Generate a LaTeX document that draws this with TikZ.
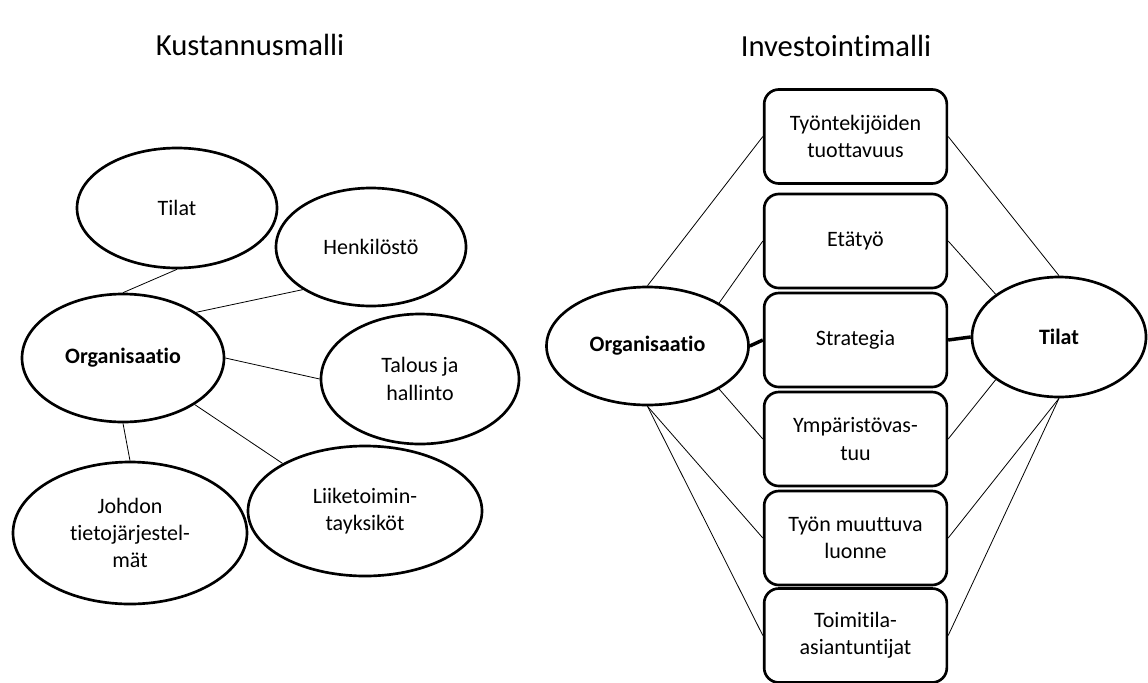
\documentclass[tikz,border=0pt]{standalone}
\usepackage{fontspec}
\setmainfont{Carlito}[Ligatures=NoCommon]
\usetikzlibrary{shapes.geometric}

\tikzset{
  oval/.style={draw, ellipse, line width=2pt, fill=white, align=center, inner sep=0pt},
  teema/.style={draw, rounded corners=11pt, line width=2pt, fill=white, align=center,
    minimum width=137pt, minimum height=70.5pt, inner sep=0pt},
  yhteys/.style={line width=0.6pt},
  vahva/.style={line width=2.6pt},
  otsikko/.style={font=\fontsize{23}{27}\selectfont},
}

\begin{document}
\begin{tikzpicture}[x=0.75pt, y=-0.75pt, font=\fontsize{16.5}{20.5}\selectfont]
  \useasboundingbox (0,0) rectangle (1148,682);

  % Kustannusmalli
  \node[otsikko] (otsK) at (250,45) {Kustannusmalli};
  \node[oval, minimum width=150pt, minimum height=90pt] (tilatK) at (177,208) {Tilat};
  \node[oval, minimum width=142.5pt, minimum height=88.5pt] (henk) at (371,247) {Henkilöstö};
  \node[oval, minimum width=151.5pt, minimum height=96pt] (orgK) at (123,358) {\textbf{Organisaatio}};
  \node[oval, minimum width=148.5pt, minimum height=97.5pt] (talous) at (420,379) {Talous ja\\hallinto};
  \node[oval, minimum width=175.5pt, minimum height=97.5pt] (liike) at (365,511) {Liiketoimin-\\tayksiköt};
  \node[oval, minimum width=175.5pt, minimum height=106.5pt] (johdon) at (130,533) {Johdon\\tietojärjestel-\\mät};

  \draw[yhteys] (orgK.north) -- (tilatK.south);
  \draw[yhteys] (orgK.32) -- (henk.212);
  \draw[yhteys] (orgK.east) -- (talous.west);
  \draw[yhteys] (orgK.-33) -- (liike.150);
  \draw[yhteys] (orgK.south) -- (johdon.north);

  % Investointimalli
  \node[otsikko] (otsI) at (836,46) {Investointimalli};
  \node[oval, minimum width=151.5pt, minimum height=88.5pt] (orgI) at (647.5,346) {\textbf{Organisaatio}};
  \node[oval, minimum width=130.5pt, minimum height=90pt] (tilatI) at (1059,337) {\textbf{Tilat}};

  \node[teema] (t1) at (855.5,136.5) {Työntekijöiden\\tuottavuus};
  \node[teema] (t2) at (855.5,241) {Etätyö};
  \node[teema] (t3) at (855.5,340) {Strategia};
  \node[teema] (t4) at (855.5,439) {Ympäristövas-\\tuu};
  \node[teema] (t5) at (855.5,538) {Työn muuttuva\\luonne};
  \node[teema] (t6) at (855.5,635.5) {Toimitila-\\asiantuntijat};

  \draw[yhteys] (orgI.north) -- (t1.west);
  \draw[yhteys] (orgI.31) -- (t2.west);
  \draw[vahva] (orgI.east) -- (t3.west);
  \draw[yhteys] (orgI.-31) -- (t4.west);
  \draw[yhteys] (orgI.south) -- (t5.west);
  \draw[yhteys] (orgI.south) -- (t6.west);

  \draw[yhteys] (t1.east) -- (tilatI.north);
  \draw[yhteys] (t2.east) -- (tilatI.146);
  \draw[vahva] (t3.east) -- (tilatI.west);
  \draw[yhteys] (t4.east) -- (tilatI.214);
  \draw[yhteys] (t5.east) -- (tilatI.south);
  \draw[yhteys] (t6.east) -- (tilatI.south);
\end{tikzpicture}
\end{document}
